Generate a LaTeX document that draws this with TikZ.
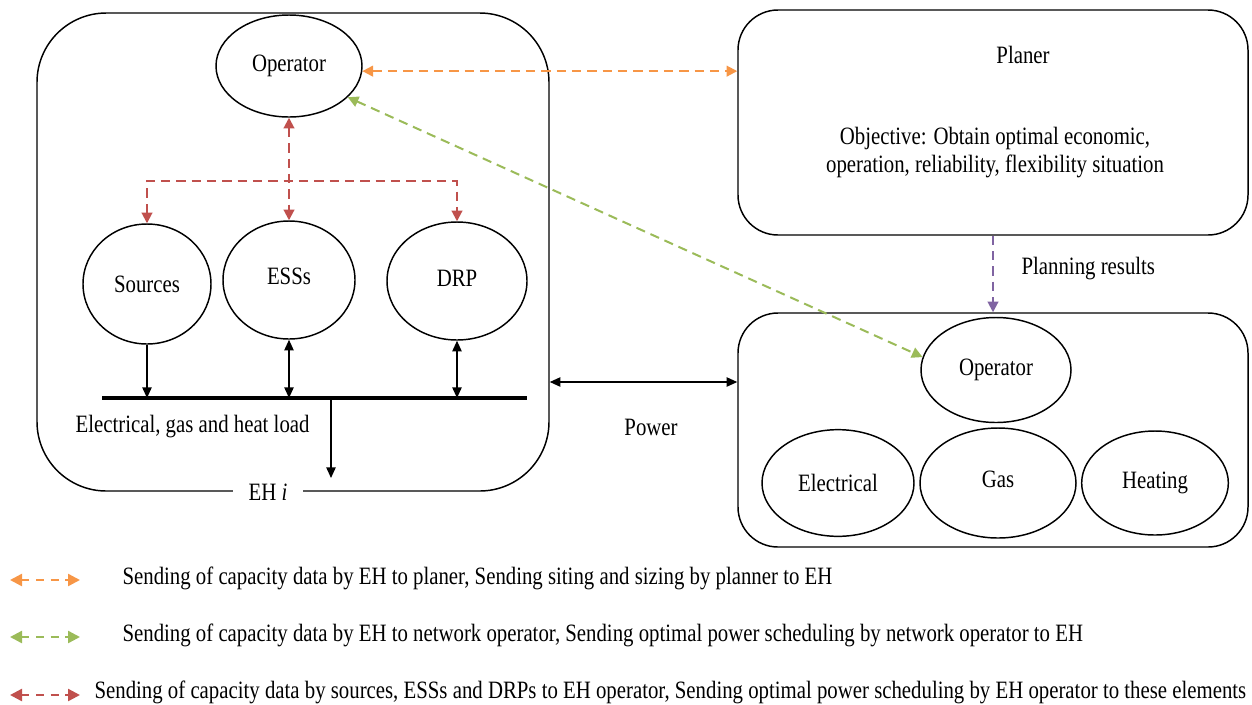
\documentclass[tikz,border=0pt]{standalone}
\usepackage{fontspec}
\usepackage{graphicx}
\setmainfont{Liberation Serif}
\usetikzlibrary{arrows.meta,shapes.geometric}
\definecolor{corange}{HTML}{F79646}
\definecolor{cgreen}{HTML}{9BBB59}
\definecolor{cred}{HTML}{C0504D}
\definecolor{cpurple}{HTML}{8064A2}
\newcommand{\tl}[1]{\scalebox{1}[1.2]{#1}}
\tikzset{
  txt/.style={font=\fontsize{15.6}{19}\selectfont, inner sep=1pt},
  circ/.style={draw, ellipse, line width=1.1pt, inner sep=0pt, font=\fontsize{15.6}{19}\selectfont},
  bigbox/.style={draw, line width=1.1pt, inner sep=0pt},
  dlink/.style={dashed, line width=1.5pt, dash pattern=on 7pt off 4.5pt, {Triangle[length=8pt,width=8pt]}-{Triangle[length=8pt,width=8pt]}},
  dlinkone/.style={dashed, line width=1.5pt, dash pattern=on 7pt off 4.5pt, -{Triangle[length=8pt,width=8pt]}},
  blink/.style={line width=1.1pt, {Triangle[length=8pt,width=7pt]}-{Triangle[length=8pt,width=7pt]}},
  blinkone/.style={line width=1.1pt, -{Triangle[length=8pt,width=7pt]}},
  legarrow/.style={dashed, line width=1.8pt, dash pattern=on 6pt off 5pt, {Triangle[length=9pt,width=9pt]}-{Triangle[length=9pt,width=9pt]}},
}
\begin{document}
\begin{tikzpicture}[x=0.75pt,y=-0.75pt]
\useasboundingbox (0,0) rectangle (1252,704);
% boxes
\node[bigbox, rounded corners=52pt, minimum width=384pt, minimum height=358.5pt] (eh) at (293,252) {};
\node[bigbox, rounded corners=30pt, minimum width=382.5pt, minimum height=168.75pt] (planer) at (993,122.5) {};
\node[bigbox, rounded corners=30pt, minimum width=382.5pt, minimum height=175.5pt] (net) at (993,430) {};
\node[txt, fill=white, inner xsep=12pt] (ehlabel) at (268,492) {\tl{EH \textit{i}}};
% left ellipses
\node[circ, minimum width=109.5pt, minimum height=76.5pt] (opL) at (289,66) {\tl{Operator}};
\node[circ, minimum width=96pt, minimum height=90pt] (src) at (147,284) {\tl{Sources}};
\node[circ, minimum width=99pt, minimum height=88.5pt] (ess) at (289,280) {\raisebox{6pt}{\tl{ESSs}}};
\node[circ, minimum width=105pt, minimum height=88.5pt] (drp) at (457,281) {\raisebox{4pt}{\tl{DRP}}};
% bus
\coordinate (busL) at (102,398);
\coordinate (busR) at (527,398);
\draw[line width=3pt] (busL) -- (busR);
\coordinate (loadtop) at (331,398);
\coordinate (loadend) at (331,478);
\draw[blinkone] (loadtop) -- (loadend);
\draw[blinkone] (src.south) -- (src.south |- busL);
\draw[blink] (ess.south) -- (ess.south |- busL);
\draw[blink] (drp.south) -- (drp.south |- busL);
\node[txt, anchor=west] (loadtxt) at (74,427) {\tl{Electrical, gas and heat load}};
% red
\coordinate (rj) at (290,181);
\draw[dlink, cred] (opL.south) -- (ess.north);
\draw[dlink, cred] (src.north) |- (rj) -| (drp.north);
% right
\node[txt] (plt) at (1023,55) {\tl{Planer}};
\node[txt] (obj1) at (995,138) {\tl{Objective: Obtain optimal economic,}};
\node[txt] (obj2) at (995,166) {\tl{operation, reliability, flexibility situation}};
\node[circ, minimum width=112.5pt, minimum height=78.75pt] (opR) at (996,370) {\tl{Operator}};
\node[circ, minimum width=114pt, minimum height=80pt] (elec) at (838,483) {\tl{Electrical}};
\node[circ, minimum width=117pt, minimum height=82.5pt] (gas) at (998,483) {\raisebox{6pt}{\tl{Gas}}};
\node[circ, minimum width=110pt, minimum height=78pt] (heat) at (1155,483) {\raisebox{4pt}{\tl{Heating}}};
\draw[dlinkone, cpurple] (planer.south) -- (net.north);
\node[txt, anchor=west] (plres) at (1020,269) {\tl{Planning results}};
\coordinate (pw) at (640,382);
\draw[blink] (eh.east |- pw) -- (net.west |- pw);
\node[txt] (power) at (651,427) {\tl{Power}};
\draw[dlink, corange] (opL.-4) -- (opL.-4 -| planer.west);
\draw[dlink, cgreen] (opL.-28) -- (opR.170);
% legend
\coordinate (l1a) at (10,580); \coordinate (l1b) at (80,580);
\coordinate (l2a) at (10,637); \coordinate (l2b) at (80,637);
\coordinate (l3a) at (10,695); \coordinate (l3b) at (80,695);
\draw[legarrow, corange] (l1a) -- (l1b);
\draw[legarrow, cgreen] (l2a) -- (l2b);
\draw[legarrow, cred] (l3a) -- (l3b);
\node[txt, anchor=west] (leg1) at (121,578) {\tl{Sending of capacity data by EH to planer, Sending siting and sizing by planner to EH}};
\node[txt, anchor=west] (leg2) at (121,635) {\tl{Sending of capacity data by EH to network operator, Sending optimal power scheduling by network operator to EH}};
\node[txt, anchor=west] (leg3) at (93,692) {\tl{Sending of capacity data by sources, ESSs and DRPs to EH operator, Sending optimal power scheduling by EH operator to these elements}};
\end{tikzpicture}
\end{document}
